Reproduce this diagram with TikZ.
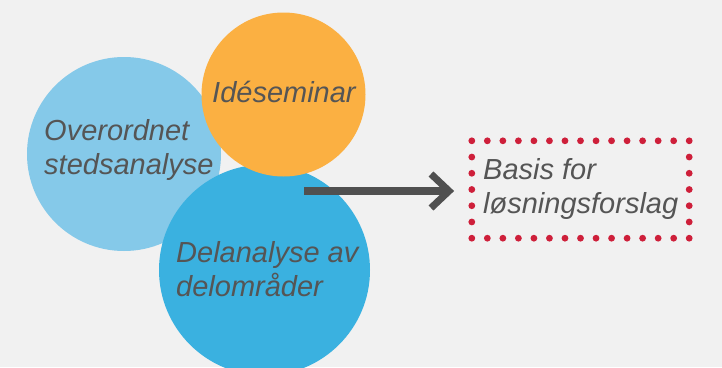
\documentclass[tikz,border=0pt]{standalone}
\usepackage{fontspec}
\setmainfont{Liberation Sans}
\usetikzlibrary{calc}
\definecolor{bg}{HTML}{F1F1F1}
\definecolor{lblue}{HTML}{85C9E9}
\definecolor{dblue}{HTML}{3AB1E0}
\definecolor{orng}{HTML}{FBB042}
\definecolor{txt}{HTML}{555555}
\definecolor{arr}{HTML}{505050}
\definecolor{dotred}{HTML}{CE1F3A}
\begin{document}
\begin{tikzpicture}[x=1pt,y=-1pt,
  blob/.style={circle,inner sep=0pt,draw=none},
  lbl/.style={anchor=base west,inner sep=0pt,text=txt,align=left,
    font=\fontsize{29}{34}\selectfont\itshape}]
\useasboundingbox (0,0) rectangle (722,367);
\fill[bg] (0,0) rectangle (722,367);
\node[blob,fill=lblue,minimum size=194pt] (over) at (124,154) {};
\node[blob,fill=dblue,minimum size=211pt] (del) at (264.5,270) {};
\node[blob,fill=orng,minimum size=164pt] (ide) at (283.5,94.5) {};
\node[lbl] (tover) at (44,174) {Overordnet\\stedsanalyse};
\node[lbl] (tide) at (212,102) {Idéseminar};
\node[lbl] (tdel) at (176,296) {Delanalyse av\\delområder};
\node[minimum width=217pt,minimum height=97pt,inner sep=0pt] (box) at (580.5,189.5) {};
\foreach \i in {0,...,14}{
  \fill[dotred] ($(box.north west)!\i/14!(box.north east)$) circle (3.4pt);
  \fill[dotred] ($(box.south west)!\i/14!(box.south east)$) circle (3.4pt);}
\foreach \i in {1,...,5}{
  \fill[dotred] ($(box.north west)!\i/6!(box.south west)$) circle (3.4pt);
  \fill[dotred] ($(box.north east)!\i/6!(box.south east)$) circle (3.4pt);}
\node[lbl] (tbox) at (483,213) {Basis for\\løsningsforslag};
\coordinate (astart) at (304,191);
\coordinate (atip) at (449,191);
\draw[arr,line width=8pt] (astart) -- ($(atip)+(-4,0)$);
\draw[arr,line width=7pt,miter limit=10] ($(atip)+(-18,-17)$) -- (atip) -- ($(atip)+(-18,17)$);
\end{tikzpicture}
\end{document}
